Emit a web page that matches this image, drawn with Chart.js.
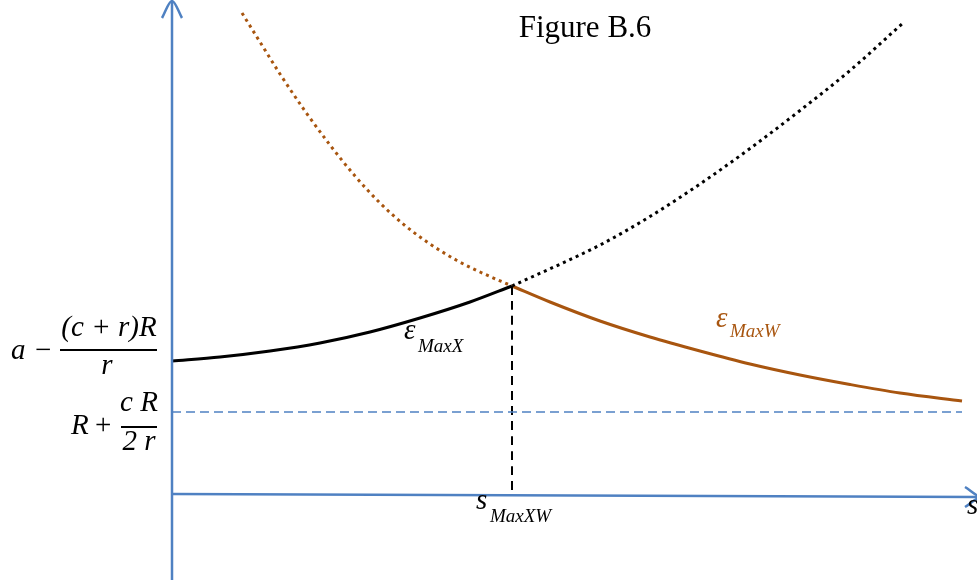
<!DOCTYPE html>
<html>
<head>
<meta charset="utf-8">
<script src="https://cdn.jsdelivr.net/npm/chart.js@4/dist/chart.umd.min.js"></script>
<style>
  body { margin: 0; background: #fff; }
  canvas { display: block; }
</style>
</head>
<body>
<canvas id="grafica" width="977" height="581"></canvas>
<script>
// curva epsilon MaxX (negra): tramo solido y tramo punteado
const sMaxXSolido = [0, 4.8, 9.8, 14.8, 19.8, 24.8, 29.8, 34];
const epsMaxXSolido = [13.3, 13.7, 14.3, 15.1, 16.2, 17.6, 19.2, 20.8];
const sMaxXPunteado = [34, 42.8, 47.8, 52.8, 57.8, 62.8, 67.8, 73.1];
const epsMaxXPunteado = [20.8, 24.9, 27.75, 31.0, 34.55, 38.35, 42.35, 47.1];

// curva epsilon MaxW (marron)
const sMaxWPunteado = [7, 8.8, 10.8, 13.3, 15.8, 18.3, 20.8, 23.3, 25.8, 28.5, 30.8, 34];
const epsMaxWPunteado = [48.1, 45.2, 42.0, 38.3, 34.9, 31.8, 29.1, 26.85, 25.0, 23.35, 22.2, 20.8];
const sMaxWSolido = [34, 37.8, 42.8, 47.8, 52.8, 57.8, 62.8, 67.8, 72.8, 79];
const epsMaxWSolido = [20.8, 19.2, 17.3, 15.7, 14.3, 13.0, 11.9, 10.95, 10.1, 9.3];

// referencias
const sMaxXW = 34;
const nivelMinimo = 8.2;   // R + cR/2r
const nivelInicial = 13.3; // a - (c+r)R/r
const finEjeX = 81;
const finEjeY = 49.3;

const azul = '#4f81c2';
const marron = '#a8550f';

function puntos(xs, ys) {
    return xs.map((x, i) => ({x: x, y: ys[i]}));
}

function linea(data, color, ancho, guion) {
    return {
        data: data,
        borderColor: color,
        borderWidth: ancho,
        borderDash: guion || [],
        showLine: true,
        pointRadius: 0,
        fill: false,
        cubicInterpolationMode: 'monotone'
    };
}

const textos = {
    id: 'textos',
    afterDatasetsDraw(chart) {
        const ctx = chart.ctx;
        const px = v => chart.scales.x.getPixelForValue(v);
        const py = v => chart.scales.y.getPixelForValue(v);
        const serif = '"Liberation Serif", "Times New Roman", serif';
        ctx.save();
        ctx.textBaseline = 'alphabetic';

        // titulo
        ctx.fillStyle = '#000';
        ctx.font = '31px ' + serif;
        ctx.textAlign = 'center';
        ctx.fillText('Figure B.6', 585, 37);

        // a - (c+r)R / r
        let x0 = px(-1.5), y0 = py(nivelInicial) - 12;
        ctx.fillRect(x0 - 97, y0, 97, 2);
        ctx.font = 'italic 29px ' + serif;
        ctx.textAlign = 'center';
        ctx.fillText('(c + r)R', x0 - 48, y0 - 13);
        ctx.fillText('r', x0 - 50, y0 + 25);
        ctx.textAlign = 'left';
        ctx.fillText('a', 11, y0 + 10);
        ctx.font = '29px ' + serif;
        ctx.fillText('\u2212', 35, y0 + 10);

        // R + cR / 2r
        x0 = px(-1.5); y0 = py(nivelMinimo) + 14;
        ctx.fillRect(x0 - 36, y0, 36, 2);
        ctx.font = 'italic 29px ' + serif;
        ctx.textAlign = 'center';
        ctx.fillText('c R', x0 - 18, y0 - 15);
        ctx.fillText('2 r', x0 - 18, y0 + 24);
        ctx.textAlign = 'left';
        ctx.fillText('R', 71, y0 + 8);
        ctx.font = '29px ' + serif;
        ctx.fillText('+', 95, y0 + 8);

        // etiquetas de curvas
        ctx.font = 'italic 29px ' + serif;
        ctx.fillText('\u03b5', 404, 339);
        ctx.fillText('s', 476, 509);
        ctx.fillText('s', 967, 514);
        ctx.font = 'italic 19px ' + serif;
        ctx.fillText('MaxX', 418, 352);
        ctx.fillText('MaxXW', 490, 522);

        ctx.fillStyle = marron;
        ctx.font = 'italic 29px ' + serif;
        ctx.fillText('\u03b5', 716, 327);
        ctx.font = 'italic 19px ' + serif;
        ctx.fillText('MaxW', 730, 337);
        ctx.restore();
    }
};

const datasets = [
    // ejes con flechas
    linea([{x: 0, y: -8.6}, {x: 0, y: finEjeY}], azul, 2.5),
    linea([{x: -1, y: finEjeY - 1.7}, {x: 0, y: finEjeY}, {x: 1, y: finEjeY - 1.7}], azul, 2.5),
    linea([{x: 0, y: 0}, {x: finEjeX, y: -0.3}], azul, 2.5),
    linea([{x: finEjeX - 1.7, y: 0.7}, {x: finEjeX, y: -0.3}, {x: finEjeX - 1.7, y: -1.3}], azul, 2.5),
    // niveles de referencia
    linea([{x: 0, y: nivelMinimo}, {x: 79, y: nivelMinimo}], azul, 1.5, [9, 5]),
    linea([{x: sMaxXW, y: 20.8}, {x: sMaxXW, y: 0}], '#000', 2, [9, 6]),
    // curvas
    linea(puntos(sMaxWPunteado, epsMaxWPunteado), marron, 3, [3, 4]),
    linea(puntos(sMaxXPunteado, epsMaxXPunteado), '#000', 3, [3, 4]),
    linea(puntos(sMaxXSolido, epsMaxXSolido), '#000', 3),
    linea(puntos(sMaxWSolido, epsMaxWSolido), marron, 3)
];

new Chart(document.getElementById('grafica'), {
    type: 'scatter',
    data: {datasets: datasets},
    options: {
        responsive: false,
        animation: false,
        layout: {padding: 0},
        plugins: {legend: {display: false}, tooltip: {enabled: false}},
        scales: {
            x: {type: 'linear', min: -17.2, max: 80.5, display: false},
            y: {type: 'linear', min: -8.7, max: 49.4, display: false}
        }
    },
    plugins: [textos]
});
</script>
</body>
</html>
